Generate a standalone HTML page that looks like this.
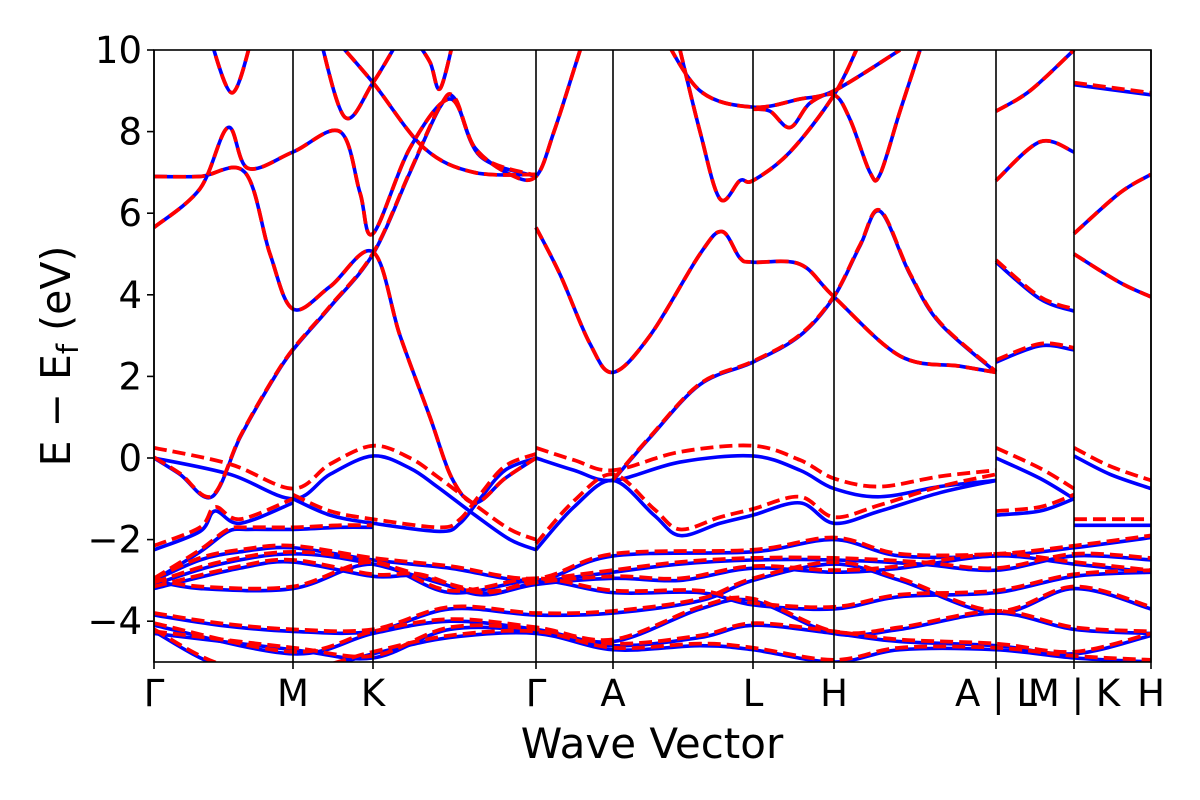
<!DOCTYPE html>
<html><head><meta charset="utf-8"><style>
html,body{margin:0;padding:0;background:#fff;}
svg{display:block;font-family:"DejaVu Sans","Liberation Sans",sans-serif;}
</style></head><body>
<svg id="chart" width="1200" height="800">
<defs><clipPath id="clip"><rect x="154" y="50" width="997" height="612"/></clipPath></defs>
<g id="bands" clip-path="url(#clip)"></g>
<g id="axes"></g>
</svg>
<script>
const tickK=[0,1.39,2.19,3.82,4.59,5.99,6.80,8.42,9.20,9.97];
const tickLabels=["Γ","M","K","Γ","A","L","H","A | L","M | K","H"];
const yTicks=[-4,-2,0,2,4,6,8,10];
const blueBands=[
[[0,6.9],[0.46,6.9],[0.91,7.0],[1.16,5.0],[1.39,3.65],[1.76,4.2],[2.19,5.05],[2.46,3.0],[2.76,1.0],[2.98,-0.5],[3.21,-1.1],[3.51,-0.5],[3.82,0]],
[[0,5.65],[0.46,6.6],[0.74,8.1],[0.94,7.1],[1.39,7.5],[1.86,8.0],[2.06,6.5],[2.19,5.5],[2.56,7.6],[2.96,8.8],[3.21,7.6],[3.56,6.95],[3.82,6.9],[4.0,8.0],[4.21,9.6],[4.3,10.3]],
[[0,0],[0.26,-0.4],[0.58,-0.95],[0.86,0.5],[1.16,1.8],[1.39,2.65],[1.76,3.7],[2.19,5.0],[2.56,7.0],[2.86,8.6],[3.01,8.8],[3.26,7.4],[3.82,6.9]],
[[3.82,5.65],[4.06,4.5],[4.36,2.8],[4.59,2.1],[4.96,3.0],[5.46,5.0],[5.68,5.55],[5.86,4.9],[5.99,4.8],[6.46,4.75],[6.80,3.95],[7.46,2.5],[8.06,2.25],[8.42,2.1]],
[[4.59,-0.55],[4.96,0.5],[5.46,1.8],[5.99,2.35],[6.46,3.0],[6.80,3.95],[7.06,5.2],[7.26,6.05],[7.56,4.5],[7.86,3.3],[8.42,2.1]],
[[5.26,10],[5.46,8],[5.66,6.35],[5.86,6.8],[5.99,6.8],[6.36,7.5],[6.80,8.9],[7.06,10.2]],
[[5.99,8.55],[6.16,8.5],[6.36,8.1],[6.56,8.7],[6.80,8.9],[6.96,8.3],[7.16,7.0],[7.26,6.95],[7.46,8.5],[7.66,10]],
[[0.56,10.3],[0.78,8.95],[0.98,10.3]],
[[5.06,10.5],[5.46,9.0],[5.99,8.6],[6.46,8.8],[6.80,9.0],[7.46,10]],
[[8.42,8.5],[8.76,9.0],[9.20,10.0]],
[[8.42,6.8],[8.86,7.75],[9.20,7.5]],
[[8.42,4.8],[8.86,3.9],[9.20,3.6]],
[[8.42,2.35],[8.86,2.75],[9.20,2.65]],
[[9.20,9.15],[9.97,8.9]],
[[9.20,5.5],[9.66,6.5],[9.97,6.95]],
[[9.20,5.0],[9.66,4.3],[9.97,3.95]],
[[0,0],[0.76,-0.4],[1.39,-1.0],[1.76,-0.4],[2.19,0.05],[2.56,-0.25],[2.83,-0.7],[3.21,-1.4],[3.56,-2.0],[3.82,-2.25]],
[[1.39,-1.0],[1.76,-1.4],[2.19,-1.6],[2.86,-1.8],[3.06,-1.6],[3.26,-1.0],[3.51,-0.3],[3.82,0]],
[[3.82,0],[4.2,-0.3],[4.59,-0.55],[5.26,-0.1],[5.99,0.05],[6.46,-0.3],[6.80,-0.75],[7.26,-0.95],[7.86,-0.7],[8.42,-0.55]],
[[3.82,-2.25],[4.2,-1.2],[4.59,-0.55],[5.0,-1.4],[5.26,-1.9],[5.66,-1.6],[5.99,-1.4],[6.46,-1.1],[6.80,-1.6],[7.26,-1.3],[7.86,-0.85],[8.42,-0.55]],
[[0,-2.25],[0.46,-1.8],[0.61,-1.3],[0.86,-1.6],[1.39,-1.1]],
[[0,-3.0],[0.46,-2.3],[0.74,-1.8],[0.94,-1.75],[1.39,-1.75],[1.86,-1.7],[2.19,-1.7]],
[[8.42,0],[8.86,-0.5],[9.20,-1.0]],
[[8.42,-1.4],[8.86,-1.3],[9.20,-1.0]],
[[9.20,0.05],[9.56,-0.4],[9.97,-0.75]],
[[9.20,-1.65],[9.97,-1.65]],
[[0,-3.0],[0.46,-2.5],[0.86,-2.3],[1.39,-2.2],[2.19,-2.5],[2.96,-2.7],[3.82,-3.0],[4.59,-2.4],[5.99,-2.3],[6.80,-2.0],[7.46,-2.4],[8.42,-2.4],[9.20,-2.2],[9.97,-1.95]],
[[0,-3.1],[0.66,-2.6],[1.39,-2.35],[2.19,-2.6],[3.26,-3.3],[3.82,-3.05],[4.59,-2.8],[5.26,-2.6],[5.99,-2.5],[6.80,-2.5],[7.66,-2.6],[8.42,-2.75],[9.20,-2.4],[9.97,-2.5]],
[[0,-3.2],[0.86,-2.7],[1.39,-2.55],[2.19,-2.9],[2.66,-2.9],[3.26,-3.35],[3.82,-3.1],[4.59,-2.95],[5.26,-3.0],[5.99,-2.7],[6.80,-2.8],[7.46,-2.7],[8.42,-2.4],[9.20,-2.6],[9.97,-2.8]],
[[0,-3.0],[0.46,-3.2],[1.39,-3.2],[2.19,-2.6],[2.96,-3.3],[3.82,-3.0],[4.59,-3.3],[5.46,-3.3],[5.99,-3.6],[6.80,-3.7],[7.46,-3.4],[8.42,-3.3],[9.20,-2.9],[9.97,-2.8]],
[[0,-3.85],[0.66,-4.1],[1.39,-4.25],[2.19,-4.25],[2.96,-3.7],[3.82,-3.85],[4.59,-3.8],[5.46,-3.5],[5.99,-3.0],[6.80,-2.6],[7.46,-3.0],[8.42,-3.8],[9.20,-3.2],[9.97,-3.7]],
[[0,-4.1],[1.39,-4.8],[2.19,-4.3],[2.96,-4.0],[3.82,-4.2],[4.59,-4.5],[5.46,-3.7],[5.99,-3.5],[6.80,-4.3],[7.46,-4.2],[8.42,-3.8],[9.20,-4.2],[9.97,-4.3]],
[[0,-4.3],[1.39,-4.7],[2.19,-4.9],[2.96,-4.2],[3.82,-4.25],[4.59,-4.6],[5.46,-4.4],[5.99,-4.1],[6.80,-4.3],[7.46,-4.5],[8.42,-4.6],[9.20,-4.8],[9.97,-4.35]],
[[0,-4.25],[0.66,-5.1],[1.39,-5.3],[2.19,-4.8],[2.96,-4.4],[3.82,-4.3],[4.59,-4.7],[5.46,-4.6],[5.99,-4.7],[6.80,-5.0],[7.46,-4.7],[8.42,-4.7],[9.20,-4.9],[9.97,-5.0]],
[[1.66,10.3],[1.91,8.35],[2.19,9.2],[2.46,10.3]],
[[1.8,10.3],[2.19,9.2],[2.7,7.6],[3.2,7.0],[3.82,6.95]],
[[2.6,10.3],[2.76,9.7],[2.86,9.05],[3.0,10.3]]
];
const redShift=[0,0,0.02,0,0.02,0,0,0,0,0,0,0.05,0.05,0.05,0,0,0.25,0.1,0.25,0.15,0.1,0.05,0.25,0.1,0.2,0.15,0.05,0.05,0.05,0.05,0.05,0.05,0.05,0.05,0,0,0];
const X0=154,X1=1151,Y0=50,Y1=662,KMIN=0,KMAX=9.97,EMIN=-5,EMAX=10;
const xs=k=>X0+(k-KMIN)/(KMAX-KMIN)*(X1-X0);
const ys=e=>Y1-(e-EMIN)/(EMAX-EMIN)*(Y1-Y0);
const NS="http://www.w3.org/2000/svg";
function pathD(pts){
  const p=pts.map(q=>[xs(q[0]),ys(q[1])]);
  let d="M"+p[0][0]+","+p[0][1];
  for(let i=0;i<p.length-1;i++){
    const a=p[i-1]||p[i],b=p[i],c=p[i+1],e=p[i+2]||c;
    const c1=[b[0]+(c[0]-a[0])/6,b[1]+(c[1]-a[1])/6];
    const c2=[c[0]-(e[0]-b[0])/6,c[1]-(e[1]-b[1])/6];
    d+=" C"+c1[0]+","+c1[1]+" "+c2[0]+","+c2[1]+" "+c[0]+","+c[1];
  }
  return d;
}
const g=document.getElementById("bands");
blueBands.forEach((b,i)=>{
  const el=document.createElementNS(NS,"path");
  el.setAttribute("d",pathD(b));
  el.setAttribute("fill","none");el.setAttribute("stroke","#0000ff");el.setAttribute("stroke-width","3.6");
  
  
  g.appendChild(el);
});
blueBands.forEach((b,i)=>{
  const s=redShift[i]||0;
  const el=document.createElementNS(NS,"path");
  el.setAttribute("d",pathD(b.map(q=>[q[0],q[1]+s])));
  el.setAttribute("fill","none");el.setAttribute("stroke","#ff0000");el.setAttribute("stroke-width","3.8");
  el.setAttribute("stroke-dasharray","13,6");
  
  
  g.appendChild(el);
});
const ax=document.getElementById("axes");
function mk(tag,attrs,text){const e=document.createElementNS(NS,tag);for(const k in attrs)e.setAttribute(k,attrs[k]);if(text!==undefined)e.textContent=text;ax.appendChild(e);return e;}
tickK.forEach((k,i)=>{
  const x=xs(k);
  const l=mk("line",{x1:x,x2:x,y1:Y0,y2:Y1+7,stroke:"#000","stroke-width":1.6});
  
  
  const t=mk("text",{x:x,y:706,"text-anchor":"middle","font-size":37},tickLabels[i]);
  
  
});
yTicks.forEach(v=>{
  const y=ys(v);
  const l=mk("line",{x1:X0-7,x2:X0,y1:y,y2:y,stroke:"#000","stroke-width":1.6});
  
  
  const t=mk("text",{x:X0-12,y:y+13,"text-anchor":"end","font-size":37},(v<0?"\u2212"+(-v):String(v)));
  
  
});
const fr=mk("rect",{x:X0,y:Y0,width:X1-X0,height:Y1-Y0,fill:"none",stroke:"#000","stroke-width":1.6});


const xl=mk("text",{x:652,y:758,"text-anchor":"middle","font-size":42},"Wave Vector");


const yl=mk("text",{x:0,y:0,"text-anchor":"middle","font-size":41,transform:"translate(70,356) rotate(-90)"});
yl.innerHTML='E \u2212 E<tspan font-size="29" dy="8">f</tspan><tspan dy="-8"> (eV)</tspan>';


</script>
</body></html>
